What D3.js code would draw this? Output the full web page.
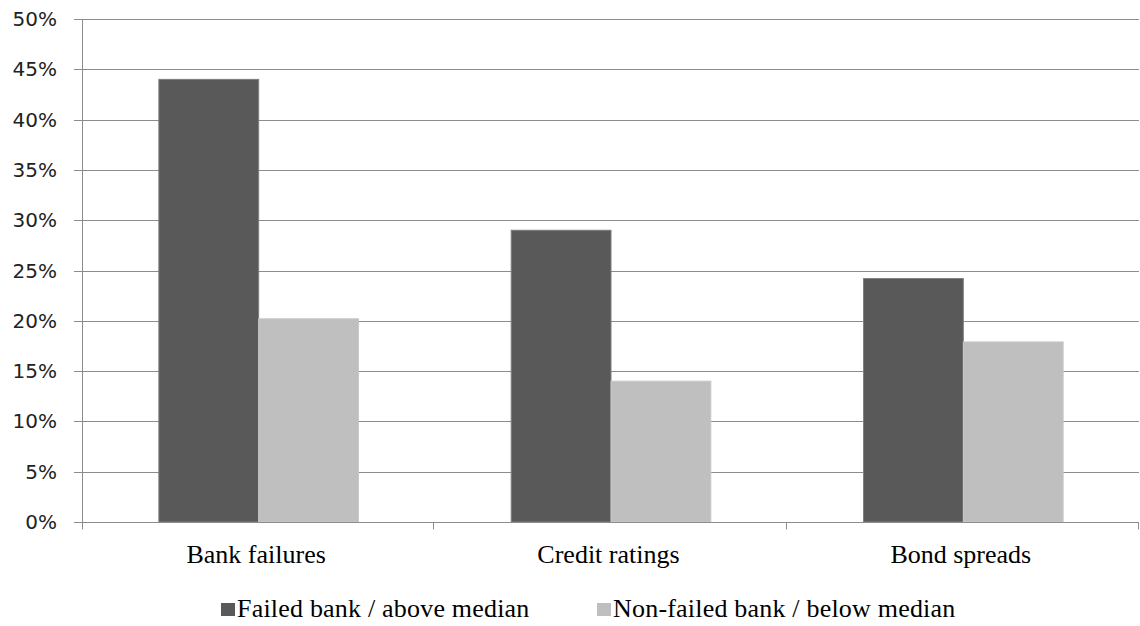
<!DOCTYPE html>
<html>
<head>
<meta charset="utf-8">
<script src="https://cdn.jsdelivr.net/npm/d3@7"></script>
<style>
  body { margin: 0; background: #fff; }
  svg { display: block; }
</style>
</head>
<body>
<svg id="chart" width="1140" height="626"></svg>
<script>
// Chart values
const categories = ["Bank failures", "Credit ratings", "Bond spreads"];
const seriesNames = ["Failed bank / above median", "Non-failed bank / below median"];
const failedValues = [0.44, 0.29, 0.242];
const nonFailedValues = [0.202, 0.14, 0.179];
const yTicks = [0, 0.05, 0.10, 0.15, 0.20, 0.25, 0.30, 0.35, 0.40, 0.45, 0.50];
const colors = ["#595959", "#bfbfbf"];

const margin = { top: 19, right: 0, bottom: 104, left: 82 };
const width = 1140, height = 626;

const svg = d3.select("#chart");

const x = d3.scaleBand()
    .domain(categories)
    .range([margin.left, width - 1])
    .paddingInner(0)
    .paddingOuter(0);

const y = d3.scaleLinear()
    .domain([0, 0.5])
    .range([height - margin.bottom, margin.top]);

const xInner = d3.scaleBand()
    .domain([0, 1])
    .range([0, x.bandwidth()])
    .paddingInner(0)
    .paddingOuter(0.765);

// gridlines
svg.append("g")
    .selectAll("line")
    .data(yTicks)
    .enter()
    .append("line")
    .attr("x1", margin.left - 8)
    .attr("x2", width - 1)
    .attr("y1", d => Math.round(y(d)) + 0.5)
    .attr("y2", d => Math.round(y(d)) + 0.5)
    .attr("stroke", "#8c8c8c")
    .attr("stroke-width", 1);

// y tick labels
svg.append("g")
    .selectAll("text")
    .data(yTicks)
    .enter()
    .append("text")
    .attr("x", margin.left - 25)
    .attr("y", d => y(d))
    .attr("text-anchor", "end")
    .attr("dominant-baseline", "central")
    .attr("font-family", "DejaVu Sans, sans-serif")
    .attr("font-size", "20px")
    .attr("fill", "#222")
    .text(d => d3.format(".0%")(d));

// bars
const rows = categories.map((c, i) => ({ cat: c, values: [failedValues[i], nonFailedValues[i]] }));

const groups = svg.append("g")
    .selectAll("g")
    .data(rows)
    .enter()
    .append("g")
    .attr("transform", d => `translate(${x(d.cat)},0)`);

groups.selectAll("rect")
    .data(d => d.values.map((v, k) => ({ v, k })))
    .enter()
    .append("rect")
    .attr("x", d => xInner(d.k) + 0.5)
    .attr("width", xInner.bandwidth())
    .attr("y", d => y(d.v))
    .attr("height", d => y(0) - y(d.v))
    .attr("fill", d => colors[d.k])
    .attr("stroke", d => d.k === 0 ? "#7f7f7f" : "#c8c8c8")
    .attr("stroke-width", 1);

// axes lines
const y0 = Math.round(y(0)) + 0.5;
svg.append("line")
    .attr("x1", margin.left + 0.5).attr("x2", margin.left + 0.5)
    .attr("y1", margin.top).attr("y2", y0 + 7)
    .attr("stroke", "#8c8c8c");

svg.append("line")
    .attr("x1", margin.left - 8).attr("x2", width - 1)
    .attr("y1", y0).attr("y2", y0)
    .attr("stroke", "#8c8c8c");

// category boundary ticks
const bounds = categories.map(c => x(c) + x.bandwidth());
svg.append("g")
    .selectAll("line")
    .data(bounds)
    .enter()
    .append("line")
    .attr("x1", d => Math.round(d) - 0.5)
    .attr("x2", d => Math.round(d) - 0.5)
    .attr("y1", y0)
    .attr("y2", y0 + 7)
    .attr("stroke", "#8c8c8c");

// category labels
svg.append("g")
    .selectAll("text")
    .data(categories)
    .enter()
    .append("text")
    .attr("x", d => x(d) + x.bandwidth() / 2 - 2)
    .attr("y", 563)
    .attr("text-anchor", "middle")
    .attr("font-family", "Liberation Serif, Times New Roman, serif")
    .attr("font-size", "26px")
    .attr("letter-spacing", "0px")
    .attr("fill", "#000")
    .text(d => d);

// legend
const legendX = [221, 597];
const legend = svg.append("g")
    .selectAll("g")
    .data(seriesNames)
    .enter()
    .append("g")
    .attr("transform", (d, i) => `translate(${legendX[i]},617)`);

legend.append("rect")
    .attr("x", 0)
    .attr("y", -14)
    .attr("width", 14)
    .attr("height", 13)
    .attr("fill", (d, i) => colors[i]);

legend.append("text")
    .attr("x", 16)
    .attr("y", 0)
    .attr("font-family", "Liberation Serif, Times New Roman, serif")
    .attr("font-size", "26px")
    .attr("letter-spacing", "0.2px")
    .attr("fill", "#000")
    .text(d => d);
</script>
</body>
</html>
